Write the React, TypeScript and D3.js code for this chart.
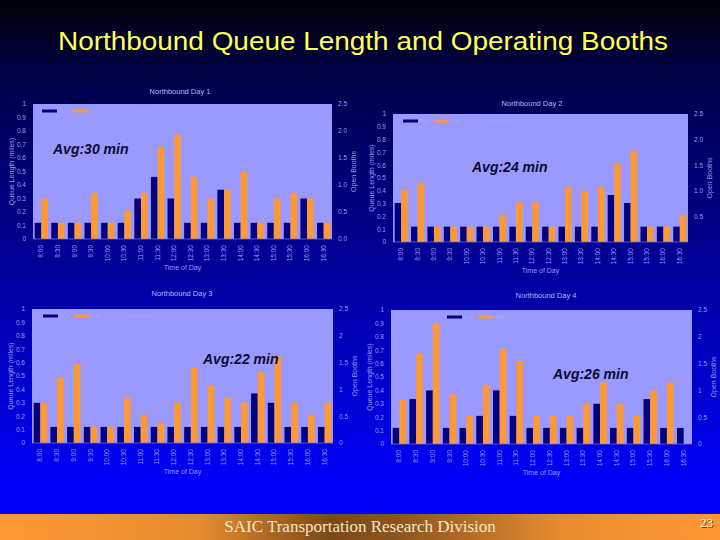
import React from "react";
import * as d3 from "d3";

const times = ["8:00","8:30","9:00","9:30","10:00","10:30","11:00","11:30","12:00","12:30","13:00","13:30","14:00","14:30","15:00","15:30","16:00","16:30"];

const day1Avg = [0.12,0.12,0.12,0.12,0.12,0.12,0.3,0.46,0.3,0.12,0.12,0.365,0.12,0.12,0.12,0.12,0.3,0.12];
const day1Max = [0.3,0.12,0.12,0.34,0.12,0.21,0.34,0.68,0.775,0.46,0.3,0.365,0.5,0.12,0.3,0.34,0.3,0.12];

const day2Avg = [0.305,0.12,0.12,0.12,0.12,0.12,0.12,0.12,0.12,0.12,0.12,0.12,0.12,0.367,0.305,0.12,0.12,0.12];
const day2Max = [0.41,0.46,0.12,0.12,0.12,0.12,0.21,0.31,0.31,0.12,0.43,0.4,0.43,0.615,0.71,0.12,0.12,0.21];

const day3Avg = [0.3,0.12,0.12,0.12,0.12,0.12,0.12,0.12,0.12,0.12,0.12,0.12,0.12,0.37,0.3,0.12,0.12,0.12];
const day3Max = [0.3,0.49,0.59,0.12,0.12,0.34,0.21,0.15,0.3,0.56,0.43,0.34,0.3,0.53,0.65,0.3,0.21,0.3];

const day4Avg = [0.12,0.335,0.4,0.12,0.12,0.21,0.4,0.21,0.12,0.12,0.12,0.12,0.3,0.12,0.12,0.335,0.12,0.12];
const day4Max = [0.33,0.675,0.9,0.37,0.21,0.44,0.71,0.62,0.21,0.21,0.21,0.3,0.46,0.3,0.21,0.4,0.46,0];

const leftTicks = [0,0.1,0.2,0.3,0.4,0.5,0.6,0.7,0.8,0.9,1];
const rightTicks = [0,0.5,1,1.5,2,2.5];

const chartTitles = ["Northbound Day 1","Northbound Day 2","Northbound Day 3","Northbound Day 4"];
const avgLabels = ["Avg:30 min","Avg:24 min","Avg:22 min","Avg:26 min"];
const legendLabels = ["Avg","Max","Open Booths"];

const NAVY = "#000080";
const ORANGE = "#ff9933";
const PLOT_BG = "#9999ff";
const TXT = "#9a9af5";

type ChartProps = {
  left: number; right: number; top: number; bottom: number;
  title: string; titleX: number; titleY: number;
  avg: number[]; max: number[];
  avgLabel: string; avgX: number; avgY: number;
  legendDx: number;
  rightFmt: (v: number) => string;
};

function Chart(p: ChartProps) {
  const x = d3.scaleBand<string>().domain(times).range([p.left, p.right]).paddingInner(0.2).paddingOuter(0.1);
  const sub = d3.scaleBand<string>().domain(["avg", "max"]).range([0, x.bandwidth()]);
  const y = d3.scaleLinear().domain([0, 1]).range([p.bottom, p.top]);
  const yr = d3.scaleLinear().domain([0, 2.5]).range([p.bottom, p.top]);
  const fs = 6.5;
  const lx = p.left + p.legendDx;
  const ly = p.top + 7;
  return (
    <g fontFamily="Liberation Sans, Arial, sans-serif">
      <text x={p.titleX} y={p.titleY} fontSize={7.5} fill="#b4b4ff" textAnchor="middle">{p.title}</text>
      <rect x={p.left} y={p.top} width={p.right - p.left} height={p.bottom - p.top} fill={PLOT_BG} />
      {times.map((t, i) => (
        <g key={t}>
          <rect x={(x(t) as number) + (sub("avg") as number)} y={y(p.avg[i])} width={sub.bandwidth()} height={p.bottom - y(p.avg[i])} fill={NAVY} />
          <rect x={(x(t) as number) + (sub("max") as number)} y={y(p.max[i])} width={sub.bandwidth()} height={p.bottom - y(p.max[i])} fill={ORANGE} />
          <text transform={`translate(${(x(t) as number) + x.bandwidth() / 2 + 2},${p.bottom + 6}) rotate(-90)`} fontSize={fs} fill={TXT} textAnchor="end">{t}</text>
        </g>
      ))}
      <line x1={p.left} x2={p.right} y1={p.bottom} y2={p.bottom} stroke="#6f6fd0" strokeWidth={0.8} />
      {leftTicks.map(v => (
        <text key={"l" + v} x={p.left - 7} y={y(v) + 2.3} fontSize={fs} fill={TXT} textAnchor="end">{d3.format("~g")(v)}</text>
      ))}
      {rightTicks.map(v => (
        <text key={"r" + v} x={p.right + 6} y={yr(v) + 2.3} fontSize={fs} fill={TXT} textAnchor="start">{p.rightFmt(v)}</text>
      ))}
      <text transform={`translate(${p.left - 19},${(p.top + p.bottom) / 2}) rotate(-90)`} fontSize={7} fill={TXT} textAnchor="middle">Queue Length (miles)</text>
      <text transform={`translate(${p.right + 24},${(p.top + p.bottom) / 2}) rotate(-90)`} fontSize={7} fill={TXT} textAnchor="middle">Open Booths</text>
      <text x={(p.left + p.right) / 2} y={p.bottom + 31} fontSize={7} fill={TXT} textAnchor="middle">Time of Day</text>
      <rect x={lx} y={ly - 1.5} width={15} height={3} fill={NAVY} />
      <text x={lx + 17} y={ly + 2} fontSize={5} fill="#a6a6ff">{legendLabels[0]}</text>
      <rect x={lx + 31} y={ly - 1.5} width={15} height={3} fill={ORANGE} />
      <text x={lx + 48} y={ly + 2} fontSize={5} fill="#a6a6ff">{legendLabels[1]}</text>
      <text x={lx + 80} y={ly + 2} fontSize={5} fill="#a2a2ff">{legendLabels[2]}</text>
      <text x={p.avgX} y={p.avgY} fontSize={14} fontWeight="bold" fontStyle="italic" fill="#0a0a30">{p.avgLabel}</text>
    </g>
  );
}

export default function App() {
  const fmt1 = (v: number) => v.toFixed(1);
  const fmt2 = (v: number) => (v === 0 ? "" : v.toFixed(1));
  const fmt3 = (v: number) => d3.format("~g")(v);
  return (
    <svg width={720} height={540} style={{ position: "absolute", left: 0, top: 0 }}>
      <defs>
        <linearGradient id="bg" x1="0" y1="0" x2="0" y2="1">
          <stop offset="0" stopColor="#000008" />
          <stop offset="0.15" stopColor="#00004a" />
          <stop offset="0.5" stopColor="#00009c" />
          <stop offset="0.88" stopColor="#0000f5" />
          <stop offset="1" stopColor="#0000ff" />
        </linearGradient>
        <linearGradient id="foot" x1="0" y1="0" x2="1" y2="0">
          <stop offset="0" stopColor="#ff9a33" />
          <stop offset="0.28" stopColor="#e58b30" />
          <stop offset="0.46" stopColor="#7a4816" />
          <stop offset="0.56" stopColor="#8e5620" />
          <stop offset="0.78" stopColor="#e88c30" />
          <stop offset="1" stopColor="#ff9933" />
        </linearGradient>
      </defs>
      <rect x={0} y={0} width={720} height={540} fill="url(#bg)" />
      <rect x={0} y={514} width={720} height={26} fill="url(#foot)" />
      <text x={58} y={50} fontSize={26} fill="#ffff55" textLength={610} lengthAdjust="spacingAndGlyphs" fontFamily="Liberation Sans, Arial, sans-serif">Northbound Queue Length and Operating Booths</text>
      <Chart left={33} right={332} top={104} bottom={239} title={chartTitles[0]} titleX={180} titleY={94} avg={day1Avg} max={day1Max} avgLabel={avgLabels[0]} avgX={53} avgY={154} legendDx={9} rightFmt={fmt1} />
      <Chart left={393} right={688} top={114} bottom={242} title={chartTitles[1]} titleX={532} titleY={106} avg={day2Avg} max={day2Max} avgLabel={avgLabels[1]} avgX={472} avgY={172} legendDx={10} rightFmt={fmt2} />
      <Chart left={32} right={333} top={309} bottom={443} title={chartTitles[2]} titleX={182} titleY={296} avg={day3Avg} max={day3Max} avgLabel={avgLabels[2]} avgX={203} avgY={364} legendDx={11} rightFmt={fmt3} />
      <Chart left={391} right={692} top={310} bottom={444} title={chartTitles[3]} titleX={546} titleY={298} avg={day4Avg} max={day4Max} avgLabel={avgLabels[3]} avgX={553} avgY={379} legendDx={56} rightFmt={fmt3} />
      <text x={360} y={532} fontSize={17} fill="#f4e6c8" textAnchor="middle" fontFamily="Liberation Serif, Times New Roman, serif">SAIC Transportation Research Division</text>
      <text x={714} y={528} fontSize={13} fill="#6a4010" textAnchor="end" fontFamily="Liberation Serif, Times New Roman, serif">23</text>
      <text x={713} y={527} fontSize={13} fill="#fff4dc" textAnchor="end" fontFamily="Liberation Serif, Times New Roman, serif">23</text>
    </svg>
  );
}
